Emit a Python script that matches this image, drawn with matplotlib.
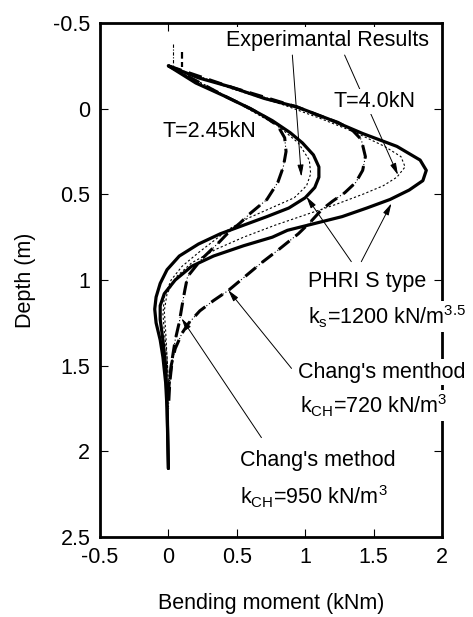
import matplotlib
matplotlib.use("Agg")
import matplotlib.pyplot as plt

plt.rcParams['font.family'] = ['Liberation Sans', 'DejaVu Sans']
plt.rcParams['mathtext.fontset'] = 'custom'
plt.rcParams['mathtext.rm'] = 'Liberation Sans'
plt.rcParams['mathtext.it'] = 'Liberation Sans'

# --- data (depth in m, bending moment in kNm) ---
phri_245_depth = [-0.25, -0.15, -0.07, 0.00, 0.07, 0.14, 0.20, 0.27, 0.34, 0.40, 0.46, 0.52, 0.58,
                  0.63, 0.68, 0.73, 0.79, 0.86, 0.94, 1.02, 1.10, 1.17, 1.25, 1.35, 1.45, 1.60, 1.75, 2.10]
phri_245_moment = [0.00, 0.20, 0.42, 0.60, 0.76, 0.89, 0.98, 1.06, 1.10, 1.10, 1.07, 1.00, 0.88,
                   0.72, 0.55, 0.38, 0.22, 0.08, -0.01, -0.06, -0.09, -0.10, -0.09, -0.06, -0.04, -0.02, -0.01, 0.00]

phri_40_depth = [-0.25, -0.18, -0.128, -0.06, -0.01, 0.06, 0.145, 0.22, 0.30, 0.36, 0.42, 0.475, 0.53,
                 0.58, 0.63, 0.67, 0.71, 0.75, 0.80, 0.86, 0.92, 1.00, 1.08, 1.15, 1.23, 1.35, 1.50, 1.70, 2.10]
phri_40_moment = [0.00, 0.22, 0.45, 0.70, 0.94, 1.17, 1.42, 1.67, 1.84, 1.885, 1.86, 1.76, 1.62,
                  1.45, 1.27, 1.07, 0.87, 0.76, 0.55, 0.33, 0.17, 0.05, -0.03, -0.06, -0.06, -0.04, -0.02, -0.01, 0.00]

exp_245_depth = [-0.25, -0.10, 0.00, 0.10, 0.20, 0.30, 0.38, 0.45, 0.52, 0.58, 0.64, 0.70, 0.76,
                 0.84, 0.92, 1.00, 1.10, 1.20, 1.30, 1.45, 1.60]
exp_245_moment = [0.00, 0.36, 0.58, 0.80, 0.95, 1.03, 1.04, 1.01, 0.92, 0.75, 0.58, 0.45, 0.35,
                  0.22, 0.10, 0.02, -0.03, -0.04, -0.03, -0.01, 0.00]

exp_40_depth = [-0.25, -0.12, -0.02, 0.06, 0.14, 0.22, 0.28, 0.34, 0.40, 0.45, 0.50, 0.56, 0.62,
                0.68, 0.75, 0.82, 0.90, 0.98, 1.08, 1.18, 1.30, 1.45, 1.60]
exp_40_moment = [0.00, 0.45, 0.85, 1.12, 1.37, 1.58, 1.70, 1.73, 1.67, 1.57, 1.42, 1.22, 1.00,
                 0.78, 0.55, 0.35, 0.17, 0.06, -0.01, -0.03, -0.02, -0.01, 0.00]

chang_245_depth = [-0.25, -0.07, 0.00, 0.05, 0.10, 0.17, 0.25, 0.34, 0.43, 0.53, 0.61, 0.67, 0.73,
                   0.78, 0.88, 0.98, 1.06, 1.15, 1.245, 1.35, 1.45, 1.60, 1.75]
chang_245_moment = [0.00, 0.42, 0.60, 0.71, 0.80, 0.85, 0.86, 0.84, 0.80, 0.72, 0.60, 0.52, 0.43,
                    0.37, 0.24, 0.14, 0.12, 0.10, 0.08, 0.05, 0.03, 0.01, 0.00]

chang_40_depth = [-0.25, -0.128, -0.01, 0.04, 0.08, 0.13, 0.18, 0.28, 0.36, 0.43, 0.49, 0.54, 0.59,
                  0.66, 0.73, 0.82, 0.90, 0.98, 1.06, 1.12, 1.18, 1.25, 1.31, 1.40, 1.50, 1.65]
chang_40_moment = [0.00, 0.45, 0.94, 1.10, 1.24, 1.35, 1.41, 1.44, 1.42, 1.37, 1.29, 1.20, 1.12,
                   1.04, 0.95, 0.81, 0.68, 0.56, 0.44, 0.33, 0.23, 0.15, 0.10, 0.05, 0.02, 0.00]

# short stubs above the pile head
stub_thin_depth = [-0.38, -0.255]
stub_thin_moment = [0.035, 0.035]
stub_thick_depth = [-0.33, -0.245]
stub_thick_moment = [0.10, 0.10]

x_ticks = [-0.5, 0, 0.5, 1, 1.5, 2]
x_tick_labels = ['-0.5', '0', '0.5', '1', '1.5', '2']
y_ticks = [-0.5, 0, 0.5, 1, 1.5, 2, 2.5]
y_tick_labels = ['-0.5', '0', '0.5', '1', '1.5', '2', '2.5']

FS = 15.5

fig = plt.figure(figsize=(4.73, 6.17), dpi=100)
ax = fig.add_axes([0.2114, 0.1297, 0.7231, 0.833])


def chang_line(moment, depth):
    # thick dashes with thin dots showing in the gaps
    ax.plot(moment, depth, color='black', lw=0.8, linestyle=(0, (1, 2)))
    ax.plot(moment, depth, color='black', lw=2.2, linestyle=(0, (4.5, 2.5)))


for m, d in [(phri_245_moment, phri_245_depth), (phri_40_moment, phri_40_depth)]:
    ax.plot(m, d, color='black', lw=2.3, solid_capstyle='round')

for m, d in [(exp_245_moment, exp_245_depth), (exp_40_moment, exp_40_depth)]:
    ax.plot(m, d, color='black', lw=0.8, linestyle=(0, (2, 2)))

chang_line(chang_245_moment, chang_245_depth)
chang_line(chang_40_moment, chang_40_depth)

ax.plot(stub_thin_moment, stub_thin_depth, color='black', lw=0.8, linestyle=(0, (3, 1.5, 1, 1.5)))
ax.plot(stub_thick_moment, stub_thick_depth, color='black', lw=1.6, linestyle=(0, (3, 1.5)))

ax.set_xlim(-0.5, 2)
ax.set_ylim(2.5, -0.5)
ax.set_xticks(x_ticks)
ax.set_xticklabels(x_tick_labels)
ax.set_yticks(y_ticks)
ax.set_yticklabels(y_tick_labels)
ax.tick_params(direction='in', length=6, width=0.8, labelsize=FS, pad=7,
               top=True, right=True)
for s in ax.spines.values():
    s.set_linewidth(2)

ax.set_xlabel('Bending moment (kNm)', fontsize=FS, labelpad=18)
ax.set_ylabel('Depth (m)', fontsize=FS, labelpad=12)

# arrows (tail -> head)
arrows = [
    ((0.906, -0.313), (0.972, 0.397)),
    ((1.288, -0.313), (1.678, 0.387)),
    ((1.337, 0.893), (1.009, 0.514)),
    ((1.41, 0.893), (1.63, 0.553)),
    ((0.90, 1.516), (0.437, 1.059)),
    ((0.68, 1.92), (0.096, 1.224)),
]
for tail, head in arrows:
    ax.annotate('', xy=head, xytext=tail, zorder=4,
                arrowprops=dict(arrowstyle='-|>,head_length=0.7,head_width=0.18',
                                color='black', lw=0.7, shrinkA=0, shrinkB=0))

box = dict(facecolor='white', edgecolor='none', pad=1.5)
ax.text(1.16, -0.40, 'Experimantal Results', fontsize=FS, ha='center', va='center', zorder=5, bbox=box)
ax.text(1.51, -0.04, 'T=4.0kN', fontsize=FS, ha='center', va='center', zorder=5, bbox=box)
ax.text(0.30, 0.135, 'T=2.45kN', fontsize=FS, ha='center', va='center', zorder=5, bbox=box)
ax.text(1.02, 1.04, 'PHRI S type', fontsize=FS, ha='left', va='baseline', zorder=5, bbox=box)
ax.text(1.02, 1.26, r'k$_\mathrm{s}$=1200 kN/m$^{3.5}$', fontsize=FS, ha='left', va='baseline', zorder=5, bbox=box)
ax.text(0.945, 1.57, "Chang's menthod", fontsize=FS, ha='left', va='baseline', zorder=5, bbox=box)
ax.text(0.96, 1.777, r'k$_\mathrm{CH}$=720 kN/m$^3$', fontsize=FS, ha='left', va='baseline', zorder=5, bbox=box)
ax.text(0.52, 2.086, "Chang's method", fontsize=FS, ha='left', va='baseline', zorder=5, bbox=box)
ax.text(0.52, 2.31, r'k$_\mathrm{CH}$=950 kN/m$^3$', fontsize=FS, ha='left', va='baseline', zorder=5, bbox=box)

fig.savefig('out.png', dpi=100)
